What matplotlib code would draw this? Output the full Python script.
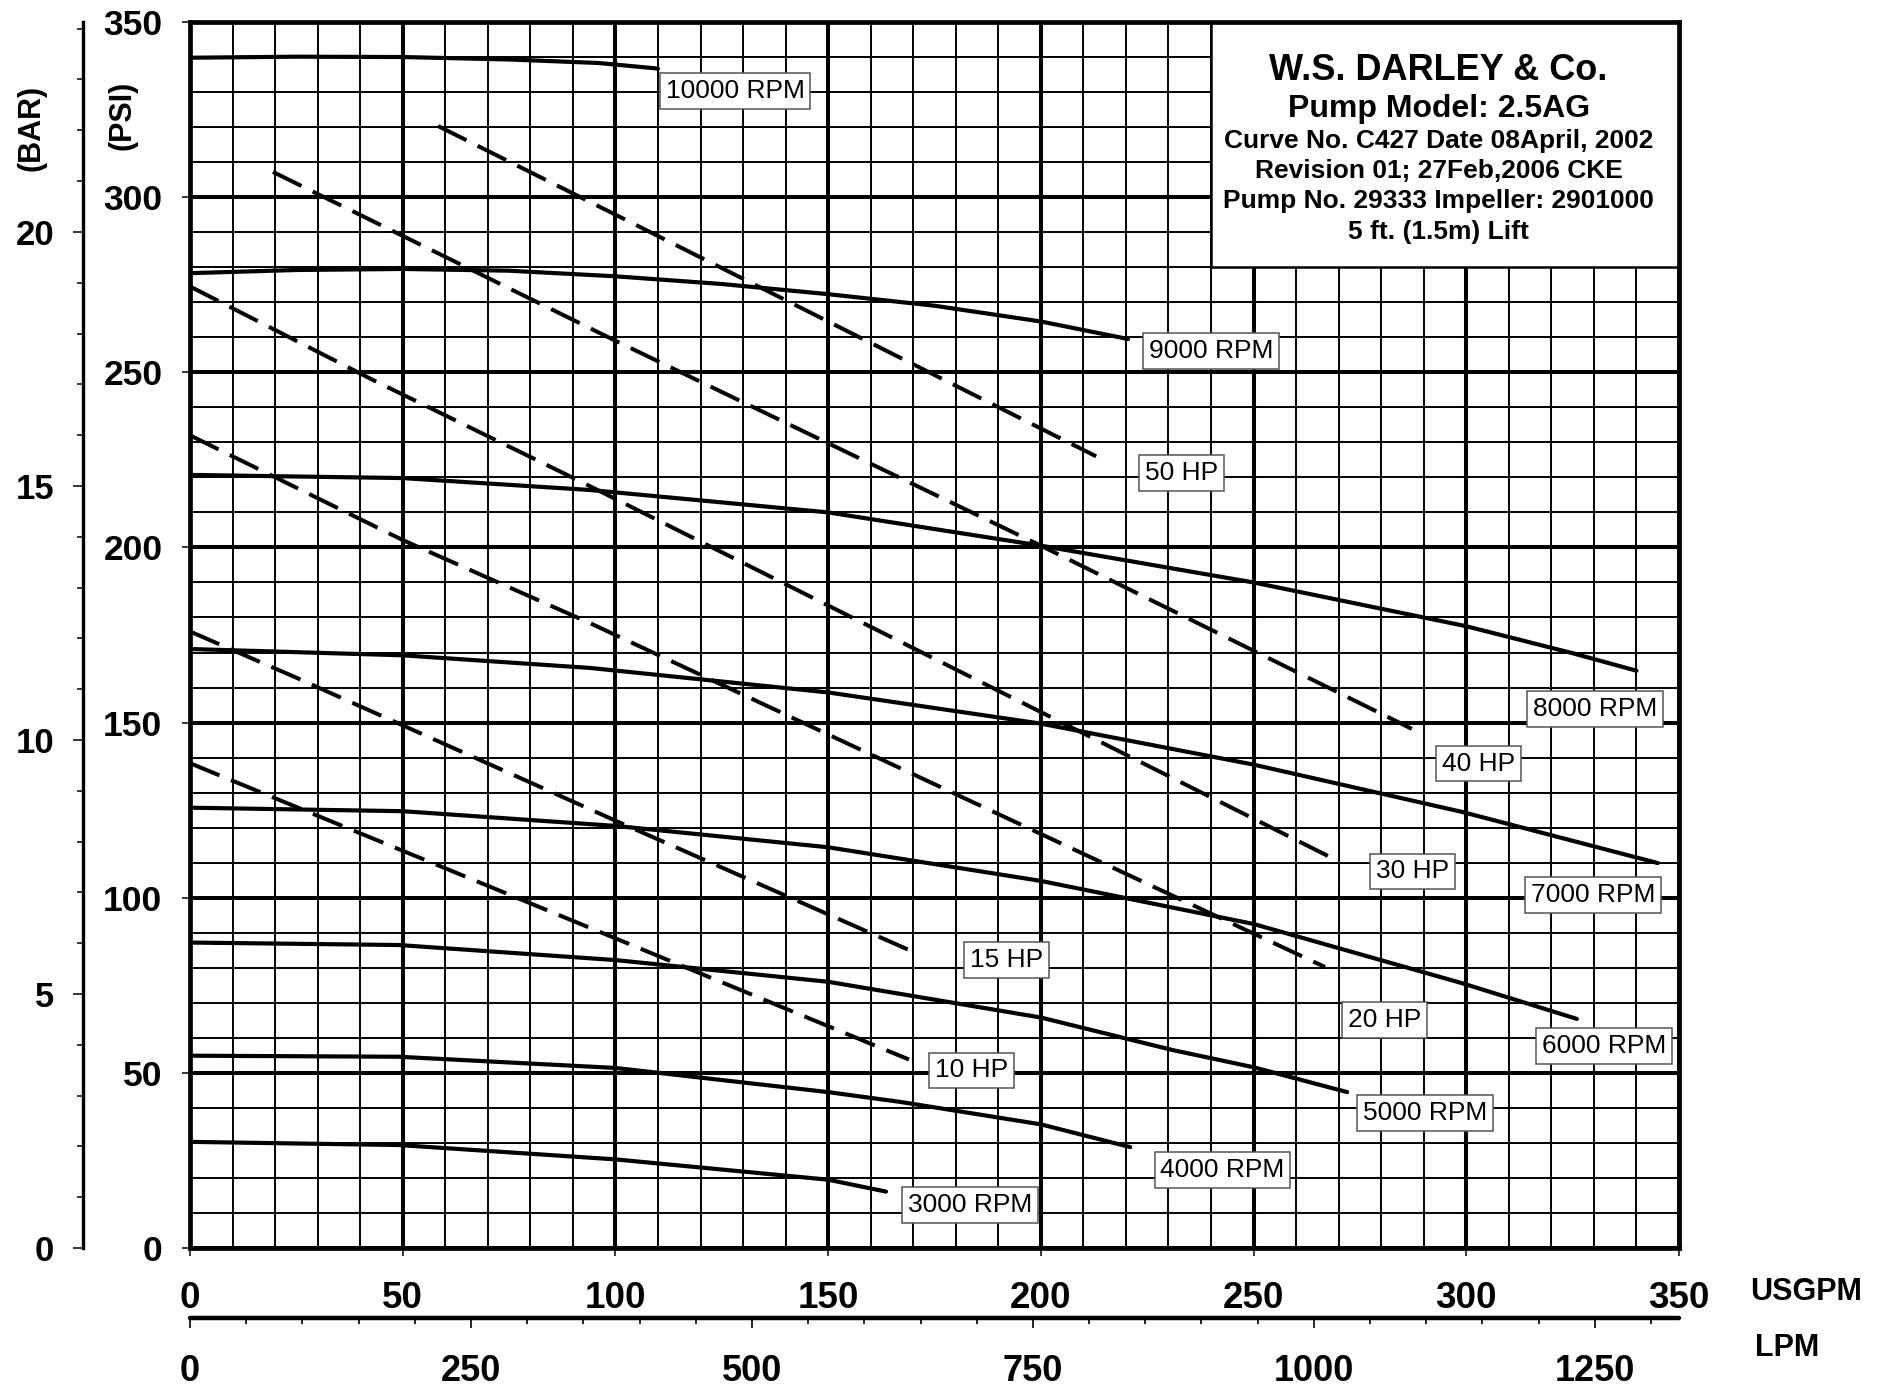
import numpy as np
import matplotlib
matplotlib.use('Agg')
import matplotlib.pyplot as plt
from matplotlib import font_manager
from matplotlib.ticker import MultipleLocator
from matplotlib.patches import Rectangle

plt.rcParams['font.family'] = ['Liberation Sans', 'DejaVu Sans']
plt.rcParams['font.weight'] = 'bold'

# speed curves, flow in USGPM, pressure in PSI
rpm10000_x = [0, 25, 50, 75, 96, 110]
rpm10000_y = [339.8, 340.1, 340.0, 339.3, 338.3, 336.7]
rpm9000_x = [0, 25, 50, 75, 100, 125, 150, 175, 200, 220.5]
rpm9000_y = [278.3, 279.2, 279.5, 279.0, 277.4, 275.2, 272.3, 269.0, 264.5, 259.5]
rpm8000_x = [0, 50, 94, 150, 200, 250, 300, 325, 340]
rpm8000_y = [220.7, 219.8, 216.4, 210.0, 200.5, 190.0, 177.5, 169.8, 164.8]
rpm7000_x = [0, 50, 94, 150, 200, 250, 299, 345]
rpm7000_y = [171.0, 169.2, 165.6, 158.6, 149.7, 138.0, 124.5, 109.9]
rpm6000_x = [0, 50, 100, 150, 200, 250, 299, 326]
rpm6000_y = [125.7, 124.7, 120.5, 114.4, 104.8, 92.5, 75.6, 65.4]
rpm5000_x = [0, 49, 100, 150, 200, 231, 250, 272]
rpm5000_y = [87.2, 86.5, 82.2, 76.0, 65.8, 56.5, 51.6, 44.5]
rpm4000_x = [0, 49, 100, 150, 167, 200, 221]
rpm4000_y = [54.9, 54.6, 51.4, 44.5, 41.7, 35.3, 28.8]
rpm3000_x = [0, 49, 100, 150, 163.6]
rpm3000_y = [30.3, 29.4, 25.3, 19.5, 16.1]

# power lines
hp50_x = [58.3, 100, 150, 213]
hp50_y = [320.3, 295.0, 264.5, 226.0]
hp40_x = [19.5, 100, 200, 287.2]
hp40_y = [307.2, 259.0, 200.5, 148.2]
hp30_x = [0, 43, 92, 200, 268.5]
hp30_y = [274.5, 247.8, 218.7, 153.0, 111.3]
hp20_x = [0, 50, 94, 150, 200, 266.8]
hp20_y = [232.0, 202.1, 178.4, 146.6, 118.2, 80.2]
hp15_x = [0, 25.2, 100, 171.2]
hp15_y = [176.0, 162.7, 122.0, 83.9]
hp10_x = [0, 100, 169]
hp10_y = [138.4, 88.4, 53.8]

curve_labels = ['10000 RPM', '9000 RPM', '50 HP', '8000 RPM', '40 HP', '30 HP',
                '7000 RPM', '15 HP', '20 HP', '6000 RPM', '10 HP', '5000 RPM',
                '4000 RPM', '3000 RPM']
label_pos = [(128.1, 330.3), (240.1, 256.0), (233.0, 221.2), (330.3, 153.9),
             (302.8, 138.3), (287.4, 107.5), (329.8, 100.8), (192.0, 82.2),
             (280.8, 65.1), (332.4, 57.7), (183.7, 50.7), (290.3, 38.5),
             (242.7, 22.3), (183.4, 12.3)]

title_lines = ['W.S. DARLEY & Co.', 'Pump Model: 2.5AG',
               'Curve No. C427 Date 08April, 2002', 'Revision 01; 27Feb,2006 CKE',
               'Pump No. 29333 Impeller: 2901000', '5 ft. (1.5m) Lift']

# bottom scales use a condensed face when it is there
installed = {f.name for f in font_manager.fontManager.ttflist}
if 'Liberation Sans Narrow' in installed:
    bottom_family, usg_size, lpm_size = ['Liberation Sans Narrow', 'Liberation Sans'], 30, 29.5
else:
    bottom_family, usg_size, lpm_size = ['Liberation Sans', 'DejaVu Sans'], 26.5, 26

W, H = 1881, 1396
fig = plt.figure(figsize=(W / 100, H / 100), dpi=100)
ax = fig.add_axes([190 / W, 1 - 1248 / H, 1489 / W, 1226 / H])
ax.set_xlim(0, 350)
ax.set_ylim(0, 350)
ax.xaxis.set_major_locator(MultipleLocator(50))
ax.xaxis.set_minor_locator(MultipleLocator(10))
ax.yaxis.set_major_locator(MultipleLocator(50))
ax.yaxis.set_minor_locator(MultipleLocator(10))
ax.set_axisbelow(True)
ax.grid(which='major', color='black', lw=2.9)
ax.grid(which='minor', color='black', lw=1.4)
ax.tick_params(which='minor', length=0)
ax.tick_params(which='major', length=5.8, width=1.1, direction='out')
ax.tick_params(axis='x', labelsize=usg_size, pad=18)
ax.tick_params(axis='y', labelsize=25.5, pad=14)
for t in ax.get_xticklabels():
    t.set_family(bottom_family)
for s in ax.spines.values():
    s.set_linewidth(3.4)

# title box over the grid
ax.add_patch(Rectangle((240, 280), 110, 70, fc='white', ec='black', lw=1.8, zorder=1))
title_size = [26, 23, 19, 19, 19, 19]
title_base = [333.4, 322.9, 314.0, 305.5, 296.9, 288.0]
for t, fs, yb in zip(title_lines, title_size, title_base):
    ax.text(293.5, yb, t, ha='center', va='baseline', fontsize=fs, fontweight='bold', zorder=5)

solid = [(rpm10000_x, rpm10000_y), (rpm9000_x, rpm9000_y), (rpm8000_x, rpm8000_y),
         (rpm7000_x, rpm7000_y), (rpm6000_x, rpm6000_y), (rpm5000_x, rpm5000_y),
         (rpm4000_x, rpm4000_y), (rpm3000_x, rpm3000_y)]
for x, y in solid:
    ax.plot(x, y, color='black', lw=3.0, solid_capstyle='round', zorder=3)

dashed = [(hp50_x, hp50_y), (hp40_x, hp40_y), (hp30_x, hp30_y),
          (hp20_x, hp20_y), (hp15_x, hp15_y), (hp10_x, hp10_y)]
for x, y in dashed:
    ax.plot(x, y, color='black', lw=2.9, dashes=(7.9, 3.1), dash_capstyle='butt', zorder=3)

for lab, (lx, ly) in zip(curve_labels, label_pos):
    ax.text(lx, ly, lab, ha='center', va='center', fontsize=19, fontweight='normal', zorder=4,
            bbox=dict(boxstyle='square,pad=0.22', fc='white', ec='#555555', lw=1.1))

# BAR scale on the left
psi_per_bar = 14.5038
bar = ax.secondary_yaxis(-107 / 1489, functions=(lambda p: p / psi_per_bar,
                                                lambda b: b * psi_per_bar))
bar.set_yticks([0, 5, 10, 15, 20])
bar.yaxis.set_minor_locator(MultipleLocator(1))
bar.tick_params(which='major', length=7.2, width=1.1, labelsize=25, pad=13.7)
bar.tick_params(which='minor', length=4.3, width=1.1)
bar.spines['left'].set_linewidth(2.4)

# LPM scale under the USGPM one
lpm_per_gpm = 3.78541
lpm = ax.secondary_xaxis(-70 / 1226, functions=(lambda g: g * lpm_per_gpm,
                                               lambda l: l / lpm_per_gpm))
lpm.set_xticks([0, 250, 500, 750, 1000, 1250])
lpm.xaxis.set_minor_locator(MultipleLocator(50))
lpm.tick_params(which='major', length=7.2, width=1.2, labelsize=lpm_size, pad=19)
lpm.tick_params(which='minor', length=4.3, width=1.2)
for t in lpm.get_xticklabels():
    t.set_family(bottom_family)
lpm.spines['bottom'].set_linewidth(3.2)
lpm.spines['bottom'].set_capstyle('round')

fig.text(32 / W, 1 - 128 / H, '(BAR)', rotation=90, ha='center', va='center', fontsize=22)
fig.text(123 / W, 1 - 115 / H, '(PSI)', rotation=90, ha='center', va='center', fontsize=22)
fig.text(1750 / W, 1 - 1292 / H, 'USGPM', ha='left', va='center', fontsize=22)
fig.text(1755 / W, 1 - 1348 / H, 'LPM', ha='left', va='center', fontsize=22)

fig.savefig('out.png', dpi=100, facecolor='white')
